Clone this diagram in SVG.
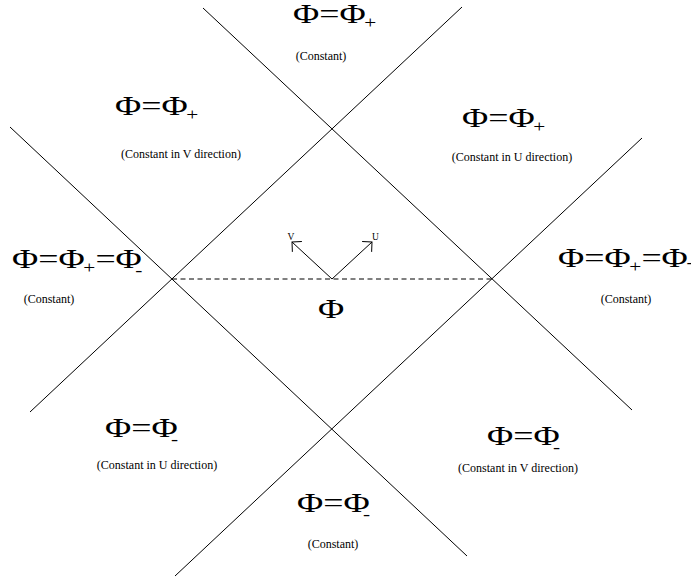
<svg xmlns="http://www.w3.org/2000/svg" width="691" height="587" viewBox="0 0 691 587">
<style>
.ln{stroke:#000;stroke-width:1;fill:none}
.dash{stroke:#000;stroke-width:1;fill:none;stroke-dasharray:5 3.5}
.big{font-family:"Liberation Serif",serif;font-size:27px;fill:#000}
.sub{font-size:16px}
.sm{font-family:"Liberation Serif",serif;font-size:12px;fill:#000;text-anchor:middle}
.ax{font-family:"Liberation Serif",serif;font-size:9.5px;fill:#000}
</style>
<defs>
<marker id="ah" viewBox="-10 -10 12 20" markerWidth="12" markerHeight="20" refX="0" refY="0" orient="auto" markerUnits="userSpaceOnUse">
<path d="M-7,-7 L0,0 L-7,7" fill="none" stroke="#000" stroke-width="1"/>
</marker>
</defs>
<rect width="691" height="587" fill="#fff"/>
<g id="connectors">
<line class="ln" x1="10" y1="127" x2="467" y2="556"/>
<line class="ln" x1="30" y1="412" x2="462" y2="7"/>
<line class="ln" x1="203" y1="8" x2="632" y2="410"/>
<line class="ln" x1="175" y1="576" x2="642" y2="138"/>
<line class="dash" x1="172" y1="279" x2="492" y2="279"/>
<line class="ln" x1="332" y1="279" x2="292" y2="242" marker-end="url(#ah)"/>
<line class="ln" x1="332" y1="279" x2="372" y2="242" marker-end="url(#ah)"/>
</g>
<g id="axis-labels">
<text class="ax" x="291" y="240" text-anchor="middle">V</text>
<text class="ax" x="372" y="240">U</text>
</g>
<g id="region-top">
<text class="big" transform="translate(293,23) scale(1.33,1)">Φ=Φ<tspan class="sub" dx="-1" dy="5">+</tspan></text>
<text class="sm" x="321" y="60">(Constant)</text>
</g>
<g id="region-upper-left">
<text class="big" transform="translate(115,115) scale(1.33,1)">Φ=Φ<tspan class="sub" dx="-1" dy="5">+</tspan></text>
<text class="sm" x="181" y="158">(Constant in V direction)</text>
</g>
<g id="region-upper-right">
<text class="big" transform="translate(462,127) scale(1.33,1)">Φ=Φ<tspan class="sub" dx="-1" dy="5">+</tspan></text>
<text class="sm" x="512" y="161">(Constant in U direction)</text>
</g>
<g id="region-left">
<text class="big" transform="translate(12,268) scale(1.33,1)">Φ=Φ<tspan class="sub" dx="-1" dy="5">+</tspan><tspan dy="-5">=Φ</tspan><tspan class="sub" dx="-5" dy="8">-</tspan></text>
<text class="sm" x="49" y="303">(Constant)</text>
</g>
<g id="region-right">
<text class="big" transform="translate(558,267) scale(1.33,1)">Φ=Φ<tspan class="sub" dx="-1" dy="5">+</tspan><tspan dy="-5">=Φ</tspan><tspan class="sub" dx="-1" dy="1">-</tspan></text>
<text class="sm" x="626" y="303">(Constant)</text>
</g>
<g id="region-center">
<text class="big" transform="translate(318,318) scale(1.33,1)">Φ</text>
</g>
<g id="region-lower-left">
<text class="big" transform="translate(105,437) scale(1.33,1)">Φ=Φ<tspan class="sub" dx="-5" dy="8">-</tspan></text>
<text class="sm" x="157" y="469">(Constant in U direction)</text>
</g>
<g id="region-lower-right">
<text class="big" transform="translate(487,445) scale(1.33,1)">Φ=Φ<tspan class="sub" dx="-5" dy="8">-</tspan></text>
<text class="sm" x="518" y="472">(Constant in V direction)</text>
</g>
<g id="region-bottom">
<text class="big" transform="translate(297,512) scale(1.33,1)">Φ=Φ<tspan class="sub" dx="-5" dy="8">-</tspan></text>
<text class="sm" x="333" y="548">(Constant)</text>
</g>
</svg>
